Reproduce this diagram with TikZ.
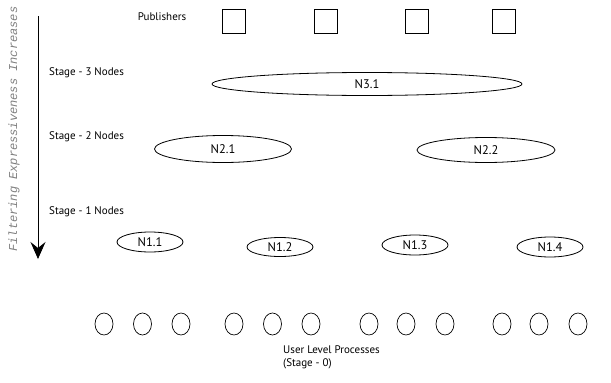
\documentclass[tikz,border=0pt]{standalone}
\usepackage{fontspec}
\setmainfont{PT Sans}
\setmonofont{Liberation Mono}
\usetikzlibrary{arrows.meta,shapes.geometric}

\begin{document}
\begin{tikzpicture}[x=1pt,y=-1pt]
	\tikzstyle{every node}=[inner sep=0pt, font=\fontsize{11}{13}\selectfont]
	\tikzstyle{pub}=[draw, line width=.8pt, minimum width=23pt, minimum height=24pt]
	\tikzstyle{filt}=[draw, ellipse, line width=.8pt, font=\fontsize{12.5}{14}\selectfont]
	\tikzstyle{proc}=[draw, ellipse, line width=.7pt, minimum width=18pt, minimum height=22pt]
	\tikzstyle{stage}=[anchor=west]
	\useasboundingbox (0,0) rectangle (611,383);
	% publishers
	\node (publab) at (162,17) {Publishers};
	\foreach \i/\x in {1/233.5,2/325.5,3/416.5,4/504}
		\node[pub] (p\i) at (\x,21) {};
	% stage labels
	\node[stage] (s3) at (49,73) {Stage - 3 Nodes};
	\node[stage] (s2) at (49,137) {Stage - 2 Nodes};
	\node[stage] (s1) at (49,212) {Stage - 1 Nodes};
	% filtering nodes
	\node[filt, minimum width=310pt, minimum height=23pt] (n31) at (367,84) {N3.1};
	\node[filt, minimum width=137pt, minimum height=27pt] (n21) at (223,149) {N2.1};
	\node[filt, minimum width=138pt, minimum height=25pt] (n22) at (486,150) {N2.2};
	\node[filt, minimum width=66pt, minimum height=20pt] (n11) at (150,242) {N1.1};
	\node[filt, minimum width=66pt, minimum height=19pt] (n12) at (280,247) {N1.2};
	\node[filt, minimum width=66pt, minimum height=20pt] (n13) at (415,245) {N1.3};
	\node[filt, minimum width=66pt, minimum height=20pt] (n14) at (550,247) {N1.4};
	% user level processes
	\foreach \i/\x in {1/104,2/142.5,3/181,4/234,5/272.5,6/311,7/369,8/406,9/445,10/502,11/539,12/578}
		\node[proc] (u\i) at (\x,324) {};
	\node[align=left, anchor=north west] (ulp) at (283,346) {User Level Processes\\(Stage - 0)};
	% axis
	\coordinate (top) at (38,16);
	\coordinate (bot) at (38,259);
	\draw[line width=.8pt, -{Stealth[length=17pt,width=15pt,inset=6pt]}] (top) -- (bot);
	\node[rotate=90, text=gray, font=\ttfamily\itshape\fontsize{12}{12}\selectfont] (axis) at (14,129) {Filtering Expressiveness Increases};
\end{tikzpicture}
\end{document}
